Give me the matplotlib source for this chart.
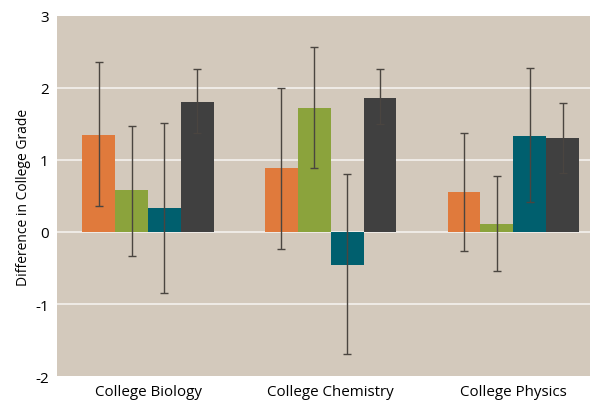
import numpy as np
import matplotlib.pyplot as plt

plt.rcParams['font.family'] = ['Open Sans', 'DejaVu Sans']

# datos
cursos = ['College Biology', 'College Chemistry', 'College Physics']
naranja = [1.35, 0.89, 0.555]
verde = [0.58, 1.72, 0.11]
azul = [0.33, -0.46, 1.33]
gris = [1.805, 1.86, 1.30]

# extremos de las barras de error (inferior, superior)
naranja_lo = [0.36, -0.23, -0.26]
naranja_hi = [2.365, 2.0, 1.38]
verde_lo = [-0.33, 0.89, -0.54]
verde_hi = [1.47, 2.57, 0.78]
azul_lo = [-0.84, -1.69, 0.41]
azul_hi = [1.52, 0.80, 2.27]
gris_lo = [1.37, 1.50, 0.82]
gris_hi = [2.26, 2.26, 1.79]

series = [(naranja, naranja_lo, naranja_hi, '#e07a3c'),
          (verde, verde_lo, verde_hi, '#8ba33c'),
          (azul, azul_lo, azul_hi, '#005f6e'),
          (gris, gris_lo, gris_hi, '#404040')]

x = np.arange(len(cursos))
w = 0.18

fig = plt.figure(figsize=(5.9, 4.02), dpi=100)
ax = fig.add_axes([0.0966, 0.062, 0.9034, 0.896])
ax.set_facecolor('#d3c9bc')

for y in [-1, 0, 1, 2]:
    ax.axhline(y, color='white', lw=1.2, alpha=0.75, zorder=1)

for i, (v, lo, hi, c) in enumerate(series):
    pos = x + (i - 1.5) * w
    v = np.array(v)
    err = [v - np.array(lo), np.array(hi) - v]
    ax.bar(pos, v, w, color=c, zorder=2)
    ax.errorbar(pos, v, yerr=err, fmt='none', ecolor='#4a4540', elinewidth=1,
                capsize=3, capthick=1, zorder=3)

ax.set_xlim(-0.4986, 2.42)
ax.set_ylim(-2, 3)
ax.set_yticks([-2, -1, 0, 1, 2, 3])
ax.set_yticklabels(['-2', '-1', '0', '1', '2', '3'], fontsize=11)
ax.set_xticks(x)
ax.set_xticklabels(cursos, fontsize=10.9)
ax.tick_params(length=0, pad=6)
for s in ax.spines.values():
    s.set_visible(False)
ax.set_ylabel('Difference in College Grade', fontsize=10, labelpad=3)

fig.savefig('out.png', dpi=100)
